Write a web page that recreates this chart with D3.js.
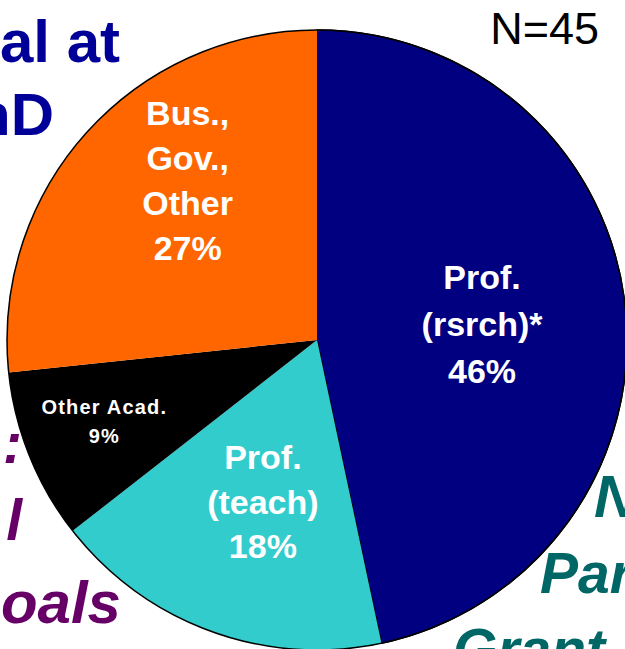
<!DOCTYPE html>
<html>
<head>
<meta charset="utf-8">
<script src="https://cdn.jsdelivr.net/npm/d3@7"></script>
<style>
  html, body { margin: 0; padding: 0; background: #fff; overflow: hidden; }
  svg { display: block; }
  text { font-family: Arial, "Liberation Sans", sans-serif; }
</style>
</head>
<body>
<svg id="chart" width="625" height="649"></svg>
<script>
// ---- data ----
const categories = ["Prof. (rsrch)*", "Prof. (teach)", "Other Acad.", "Bus., Gov., Other"];
const counts = [21, 8, 4, 12];          // N = 45
const percentLabels = ["46%", "18%", "9%", "27%"];
const labelLines = [
  ["Prof.", "(rsrch)*", "46%"],
  ["Prof.", "(teach)", "18%"],
  ["Other Acad.", "9%"],
  ["Bus.,", "Gov.,", "Other", "27%"]
];
const totalLabel = "N=45";

// ---- layout / style ----
const W = 625, H = 649;
const cx = 317, cy = 340, R = 310;
const colors = ["#000080", "#33CCCC", "#000000", "#FF6600"];
const labelStyle = [
  {fs: 34, lh: 47, dx: -4, dy: 2, ls: 0},
  {fs: 34, lh: 44.5, dx: 4, dy: 2, ls: 0},
  {fs: 20, lh: 29, dx: -55, dy: 18, ls: 1.2},
  {fs: 34, lh: 45, dx: -3, dy: -46, ls: 0}
];

const svg = d3.select("#chart");

// background fragments of surrounding slide text
const bg = svg.append("g");
bg.append("text").attr("x", 120).attr("y", 62).attr("text-anchor", "end")
  .attr("font-size", 60).attr("font-weight", "bold").attr("fill", "#000099").text("al at");
bg.append("text").attr("x", 54).attr("y", 135).attr("text-anchor", "end")
  .attr("font-size", 60).attr("font-weight", "bold").attr("fill", "#000099").text("hD");

const purple = "#660066";
bg.append("text").attr("x", 22).attr("y", 463).attr("text-anchor", "end")
  .attr("font-size", 57).attr("font-weight", "bold").attr("font-style", "italic").attr("fill", purple).text(":");
bg.append("text").attr("x", 22).attr("y", 540).attr("text-anchor", "end")
  .attr("font-size", 57).attr("font-weight", "bold").attr("font-style", "italic").attr("fill", purple).text("l");
bg.append("text").attr("x", 121).attr("y", 623).attr("text-anchor", "end")
  .attr("font-size", 60).attr("font-weight", "bold").attr("font-style", "italic").attr("fill", purple).text("goals");

const teal = "#006666";
bg.append("text").attr("x", 594).attr("y", 517)
  .attr("font-size", 60).attr("font-weight", "bold").attr("font-style", "italic").attr("fill", teal).text("N");
bg.append("text").attr("x", 540).attr("y", 593)
  .attr("font-size", 57).attr("font-weight", "bold").attr("font-style", "italic").attr("fill", teal).text("Par");
bg.append("text").attr("x", 453).attr("y", 669)
  .attr("font-size", 57).attr("font-weight", "bold").attr("font-style", "italic").attr("fill", teal).text("Grant");

svg.append("text").attr("x", 599).attr("y", 44).attr("text-anchor", "end")
  .attr("font-size", 45).attr("fill", "#000").text(totalLabel);

// ---- pie ----
const pie = d3.pie().sort(null).value(d => d)(counts);
const arc = d3.arc().innerRadius(0).outerRadius(R);
const labelArc = d3.arc().innerRadius(170).outerRadius(170);

const g = svg.append("g").attr("transform", `translate(${cx},${cy})`);

g.selectAll("path.slice").data(pie).join("path")
  .attr("class", "slice")
  .attr("d", arc)
  .attr("fill", (d, i) => colors[i])
  .attr("stroke", (d, i) => i === 0 ? "#000" : "none")
  .attr("stroke-width", 1.5)
  .attr("stroke-linejoin", "round");

g.append("circle").attr("r", R).attr("fill", "none").attr("stroke", "#000").attr("stroke-width", 1.5);

pie.forEach((d, i) => {
  const [x0, y0] = labelArc.centroid(d);
  const st = labelStyle[i];
  const x = x0 + st.dx, yc = y0 + st.dy;
  const lines = labelLines[i];
  const n = lines.length;
  const t = g.append("text")
    .attr("text-anchor", "middle")
    .attr("font-size", st.fs)
    .attr("font-weight", "bold")
    .attr("fill", "#fff")
    .attr("letter-spacing", st.ls);
  lines.forEach((ln, j) => {
    t.append("tspan")
      .attr("x", x)
      .attr("y", yc + (j - (n - 1) / 2) * st.lh + 0.358 * st.fs)
      .text(ln);
  });
});
</script>
</body>
</html>
